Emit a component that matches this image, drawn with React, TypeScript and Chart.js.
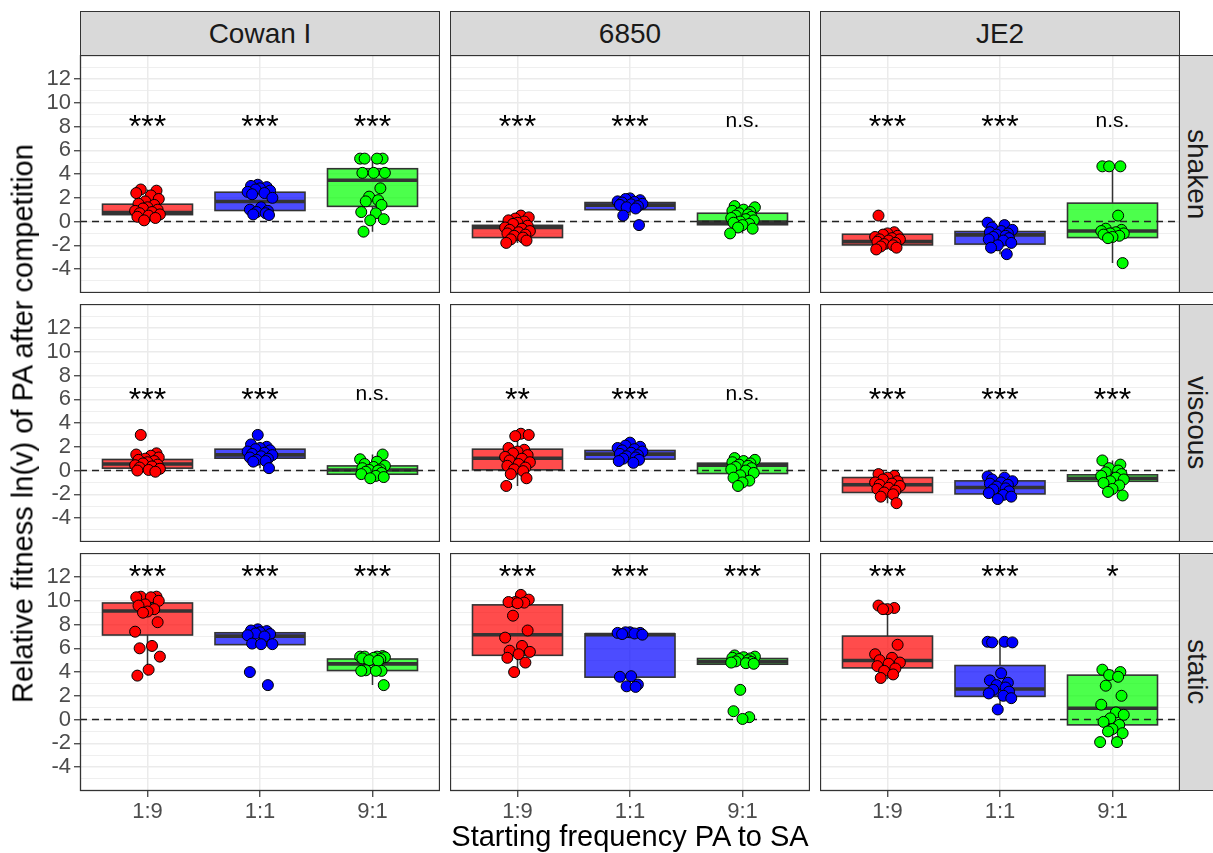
import React, { useEffect, useRef } from 'react';
import { Chart, registerables } from 'chart.js';

Chart.register(...registerables);

// ---------------- data ----------------
const CULTURES = ['Cowan I', '6850', 'JE2'];
const CONDITIONS = ['shaken', 'viscous', 'static'];
const FREQUENCIES = ['1:9', '1:1', '9:1'];
const Y_TICKS = [-4, -2, 0, 2, 4, 6, 8, 10, 12];
const Y_MINOR = [-5, -3, -1, 1, 3, 5, 7, 9, 11, 13];
const X_TITLE = 'Starting frequency PA to SA';
const Y_TITLE = 'Relative fitness ln(v) of PA after competition';

// box stats per group: [lower whisker, Q1, median, Q3, upper whisker]
// order: Cowan I (1:9, 1:1, 9:1), 6850 (1:9, 1:1, 9:1), JE2 (1:9, 1:1, 9:1)
const SHAKEN_BOXES = [
  [0.1, 0.58, 0.75, 1.46, 2.7],
  [0.55, 0.93, 1.69, 2.47, 3.1],
  [-0.85, 1.28, 3.48, 4.45, 5.3],
  [-1.8, -1.35, -0.5, -0.32, 0.5],
  [0.5, 1.0, 1.38, 1.6, 1.95],
  [-1.0, -0.27, -0.05, 0.7, 1.3],
  [-2.35, -1.97, -1.69, -1.07, -0.9],
  [-2.75, -1.9, -1.12, -0.84, -0.1],
  [-3.5, -1.35, -0.8, 1.55, 4.65],
];
const VISCOUS_BOXES = [
  [-0.1, 0.2, 0.55, 0.93, 1.45],
  [0.2, 1.04, 1.32, 1.8, 2.2],
  [-0.65, -0.31, 0.05, 0.39, 1.35],
  [-1.3, 0.06, 1.04, 1.8, 3.1],
  [0.65, 0.96, 1.38, 1.69, 2.35],
  [-1.3, -0.25, 0.45, 0.62, 1.05],
  [-2.75, -1.85, -1.2, -0.59, -0.3],
  [-2.4, -1.97, -1.43, -0.87, -0.5],
  [-2.1, -0.9, -0.65, -0.36, 0.85],
];
const STATIC_BOXES = [
  [3.7, 7.12, 9.15, 9.82, 10.35],
  [6.31, 6.31, 7.03, 7.31, 7.6],
  [2.9, 4.13, 4.69, 5.1, 5.35],
  [4.0, 5.41, 7.14, 9.66, 10.5],
  [2.75, 3.57, 7.15, 7.22, 7.35],
  [4.66, 4.66, 4.88, 5.14, 5.4],
  [3.4, 4.35, 4.97, 7.03, 9.45],
  [0.85, 1.95, 2.57, 4.55, 6.55],
  [-1.9, -0.45, 0.95, 3.74, 4.2],
];

// jittered observations per group (same order as boxes)
const SHAKEN_POINTS = [
  [2.7, 2.6, 2.4, 2.2, 1.9, 1.7, 1.5, 1.4, 1.2, 1.1, 1.0, 0.9, 0.8, 0.7, 0.6, 0.5, 0.4, 0.3, 0.1],
  [3.1, 3.0, 2.9, 2.8, 2.7, 2.6, 2.5, 2.4, 2.3, 2.0, 1.2, 1.0, 0.9, 0.8, 0.7, 0.6, 0.55],
  [5.3, 5.3, 5.3, 5.3, 4.1, 4.1, 4.1, 2.8, 2.1, 1.8, 1.7, 1.4, 0.8, 0.7, 0.2, 0.1, -0.85],
  [0.5, 0.35, 0.25, 0.1, 0.0, -0.1, -0.2, -0.35, -0.5, -0.6, -0.7, -0.8, -0.9, -1.0, -1.1, -1.2, -1.35, -1.5, -1.6, -1.8],
  [1.95, 1.9, 1.8, 1.7, 1.65, 1.6, 1.5, 1.45, 1.4, 1.3, 1.2, 1.1, 0.5, -0.3],
  [1.3, 1.2, 1.0, 0.9, 0.8, 0.7, 0.6, 0.5, 0.4, 0.3, 0.2, 0.1, 0.0, -0.1, -0.2, -0.3, -0.5, -0.6, -1.0],
  [0.5, -0.9, -1.0, -1.1, -1.2, -1.3, -1.4, -1.5, -1.5, -1.6, -1.7, -1.8, -1.9, -2.0, -2.1, -2.2, -2.35],
  [-0.1, -0.3, -0.5, -0.7, -0.8, -0.9, -1.0, -1.1, -1.2, -1.3, -1.4, -1.5, -1.6, -1.8, -2.0, -2.2, -2.75],
  [4.65, 4.65, 4.65, 0.5, -0.6, -0.7, -0.8, -0.9, -1.0, -1.0, -1.1, -1.2, -1.3, -1.4, -3.5],
];
const VISCOUS_POINTS = [
  [3.0, 1.45, 1.35, 1.25, 1.1, 1.0, 0.9, 0.8, 0.7, 0.6, 0.5, 0.45, 0.35, 0.25, 0.15, 0.05, 0.0, -0.1],
  [3.0, 2.2, 2.0, 1.9, 1.8, 1.7, 1.6, 1.5, 1.4, 1.3, 1.2, 1.1, 1.0, 0.9, 0.8, 0.75, 0.2],
  [1.35, 0.95, 0.75, 0.55, 0.4, 0.3, 0.2, 0.1, 0.05, 0.0, -0.1, -0.2, -0.3, -0.45, -0.55, -0.65],
  [3.1, 3.0, 2.9, 1.9, 1.75, 1.6, 1.45, 1.3, 1.15, 1.0, 0.85, 0.7, 0.55, 0.4, 0.25, 0.1, -0.05, -0.3, -0.65, -1.3],
  [2.35, 2.1, 2.0, 1.9, 1.8, 1.7, 1.6, 1.5, 1.4, 1.3, 1.2, 1.1, 1.0, 0.9, 0.8, 0.65],
  [1.05, 0.9, 0.8, 0.7, 0.6, 0.5, 0.4, 0.3, 0.2, 0.1, 0.0, -0.2, -0.4, -0.6, -0.85, -1.0, -1.3],
  [-0.3, -0.45, -0.6, -0.75, -0.9, -1.0, -1.1, -1.2, -1.3, -1.45, -1.55, -1.7, -1.85, -2.0, -2.2, -2.75],
  [-0.5, -0.6, -0.75, -0.9, -1.0, -1.1, -1.2, -1.35, -1.5, -1.6, -1.75, -1.9, -2.05, -2.2, -2.4],
  [0.85, 0.5, 0.2, 0.0, -0.15, -0.3, -0.45, -0.6, -0.75, -0.9, -1.05, -1.25, -1.55, -1.8, -2.1],
];
const STATIC_POINTS = [
  [10.35, 10.35, 10.3, 10.3, 10.0, 9.7, 9.6, 9.3, 9.1, 9.0, 8.2, 7.4, 6.2, 6.0, 5.3, 4.2, 3.7],
  [7.6, 7.5, 7.45, 7.35, 7.25, 7.2, 7.1, 7.0, 6.4, 6.35, 6.35, 4.0, 2.9],
  [5.35, 5.3, 5.3, 5.3, 5.25, 5.2, 5.15, 5.1, 5.0, 4.95, 4.15, 4.1, 4.1, 4.1, 2.9],
  [10.5, 10.1, 9.9, 9.9, 9.85, 9.8, 8.75, 7.5, 6.9, 6.2, 5.8, 5.7, 5.5, 5.2, 4.8, 4.0],
  [7.35, 7.35, 7.3, 7.3, 7.25, 7.2, 7.15, 3.65, 3.6, 2.95, 2.8, 2.75],
  [5.4, 5.3, 5.25, 5.2, 5.15, 5.1, 5.0, 4.9, 4.85, 4.8, 4.75, 4.7, 2.5, 0.7, 0.2, 0.05],
  [9.6, 9.4, 9.3, 9.3, 6.3, 5.5, 5.2, 5.0, 4.8, 4.7, 4.5, 4.3, 4.1, 3.8, 3.5],
  [6.55, 6.55, 6.5, 6.5, 3.9, 3.3, 3.1, 2.9, 2.7, 2.5, 2.35, 2.2, 2.0, 1.8, 0.85],
  [4.2, 4.0, 3.75, 3.6, 2.85, 2.0, 1.25, 0.6, 0.4, 0.1, -0.2, -0.45, -0.8, -1.0, -1.15, -1.9, -1.9],
];

// significance labels per group
const SHAKEN_SIG = ['***', '***', '***', '***', '***', 'n.s.', '***', '***', 'n.s.'];
const VISCOUS_SIG = ['***', '***', 'n.s.', '**', '***', 'n.s.', '***', '***', '***'];
const STATIC_SIG = ['***', '***', '***', '***', '***', '***', '***', '***', '*'];
// vertical position of the significance labels per condition
const SIG_Y = [8.4, 6.4, 12.4];

const BOXES_BY_CONDITION = [SHAKEN_BOXES, VISCOUS_BOXES, STATIC_BOXES];
const POINTS_BY_CONDITION = [SHAKEN_POINTS, VISCOUS_POINTS, STATIC_POINTS];
const SIG_BY_CONDITION = [SHAKEN_SIG, VISCOUS_SIG, STATIC_SIG];

// ---------------- style / layout ----------------
const FONT = '"Liberation Sans", Arial, Helvetica, sans-serif';
const POINT_COLORS = ['#ff0000', '#0000ff', '#00ff00'];
const BOX_FILLS = ['rgba(255,0,0,0.7)', 'rgba(0,0,255,0.7)', 'rgba(0,255,0,0.7)'];
const JITTER = [-0.06, 0.08, -0.1, 0.03, 0.1, -0.02, -0.08, 0.06, 0.0, -0.04, 0.09, -0.11, 0.04, -0.07, 0.11, 0.01, -0.09, 0.07, -0.03, 0.05];
const PANEL_X = [80, 450, 820];
const PANEL_Y = [55, 304, 553];
const PANEL_W = 360;
const PANEL_H = 238;
const X_AXIS_H = 40;
const Y_MIN = -6.02;
const Y_MAX = 14.03;
const X_MIN = -0.6;
const X_MAX = 2.6;
const BOX_HALF = 0.4;
const TICK_FONT_SIZE = 22;

function makePanelPlugin(row: number, col: number) {
  const boxes = BOXES_BY_CONDITION[row].slice(col * 3, col * 3 + 3);
  const sigs = SIG_BY_CONDITION[row].slice(col * 3, col * 3 + 3);
  return {
    id: 'panel' + row + col,
    beforeDatasetsDraw(chart: any) {
      const { ctx, chartArea, scales } = chart;
      const x = scales.x;
      const y = scales.y;
      ctx.save();
      ctx.beginPath();
      ctx.rect(chartArea.left, chartArea.top, chartArea.right - chartArea.left, chartArea.bottom - chartArea.top);
      ctx.clip();
      boxes.forEach((b: number[], i: number) => {
        const [wlo, q1, med, q3, whi] = b;
        const cx = x.getPixelForValue(i);
        const left = x.getPixelForValue(i - BOX_HALF);
        const right = x.getPixelForValue(i + BOX_HALF);
        const top = y.getPixelForValue(q3);
        const bot = y.getPixelForValue(q1);
        ctx.strokeStyle = '#333333';
        ctx.lineWidth = 1.5;
        ctx.beginPath();
        ctx.moveTo(cx, top);
        ctx.lineTo(cx, y.getPixelForValue(whi));
        ctx.moveTo(cx, bot);
        ctx.lineTo(cx, y.getPixelForValue(wlo));
        ctx.stroke();
        ctx.fillStyle = BOX_FILLS[i];
        ctx.fillRect(left, top, right - left, bot - top);
        ctx.lineWidth = 1.6;
        ctx.strokeRect(left, top, right - left, bot - top);
        const ym = y.getPixelForValue(med);
        ctx.lineWidth = 3.6;
        ctx.beginPath();
        ctx.moveTo(left, ym);
        ctx.lineTo(right, ym);
        ctx.stroke();
      });
      const y0 = y.getPixelForValue(0);
      ctx.strokeStyle = '#222222';
      ctx.lineWidth = 1.6;
      ctx.setLineDash([7, 5]);
      ctx.beginPath();
      ctx.moveTo(chartArea.left, y0);
      ctx.lineTo(chartArea.right, y0);
      ctx.stroke();
      ctx.restore();
    },
    afterDatasetsDraw(chart: any) {
      const { ctx, scales } = chart;
      const x = scales.x;
      const y = scales.y;
      ctx.save();
      ctx.fillStyle = '#000000';
      ctx.textAlign = 'center';
      ctx.textBaseline = 'alphabetic';
      sigs.forEach((lab: string, i: number) => {
        const cx = x.getPixelForValue(i);
        const cy = y.getPixelForValue(SIG_Y[row]);
        if (lab.startsWith('*')) {
          ctx.font = '32px ' + FONT;
          ctx.fillText(lab, cx, cy + 15);
        } else {
          ctx.font = '21px ' + FONT;
          ctx.fillText(lab, cx, cy + 5);
        }
      });
      ctx.restore();
    },
    afterDraw(chart: any) {
      const { ctx, chartArea } = chart;
      ctx.save();
      ctx.strokeStyle = '#333333';
      ctx.lineWidth = 1.3;
      ctx.strokeRect(chartArea.left + 0.5, chartArea.top + 0.5, chartArea.right - chartArea.left - 1, chartArea.bottom - chartArea.top - 1);
      ctx.restore();
    },
  };
}

function Panel({ row, col }: { row: number; col: number }) {
  const ref = useRef<HTMLCanvasElement | null>(null);
  const isLeft = col === 0;
  const isBottom = row === 2;
  const left = isLeft ? 0 : PANEL_X[col];
  const width = isLeft ? PANEL_X[0] + PANEL_W : PANEL_W;
  const top = PANEL_Y[row];
  const height = isBottom ? PANEL_H + X_AXIS_H : PANEL_H;

  useEffect(() => {
    const canvas = ref.current;
    if (!canvas) return;
    const groups = POINTS_BY_CONDITION[row].slice(col * 3, col * 3 + 3);
    const pts: { x: number; y: number }[] = [];
    const colors: string[] = [];
    groups.forEach((vals: number[], i: number) => {
      vals.forEach((v: number, k: number) => {
        pts.push({ x: i + JITTER[(k + i * 5 + col * 3) % JITTER.length], y: v });
        colors.push(POINT_COLORS[i]);
      });
    });
    const chart = new Chart(canvas, {
      type: 'scatter',
      data: {
        datasets: [
          {
            data: pts,
            backgroundColor: colors,
            borderColor: '#000000',
            borderWidth: 1,
            pointRadius: 5.5,
            pointHoverRadius: 5.5,
          },
        ],
      },
      options: {
        responsive: false,
        animation: false,
        devicePixelRatio: 1,
        events: [],
        layout: { padding: 0, autoPadding: false },
        plugins: { legend: { display: false }, tooltip: { enabled: false } },
        scales: {
          x: {
            type: 'linear',
            min: X_MIN,
            max: X_MAX,
            bounds: 'data',
            afterBuildTicks: (s: any) => {
              s.ticks = FREQUENCIES.map((_, i) => ({ value: i }));
            },
            afterFit: (s: any) => {
              s.height = isBottom ? X_AXIS_H : 0;
              s.paddingLeft = 0;
              s.paddingRight = 0;
            },
            border: { display: false },
            grid: {
              color: '#ebebeb',
              lineWidth: 1.5,
              drawTicks: isBottom,
              tickLength: 6,
              tickColor: '#333333',
              tickWidth: 1.2,
            },
            ticks: {
              display: isBottom,
              autoSkip: false,
              maxRotation: 0,
              padding: 2,
              color: '#4d4d4d',
              font: { family: FONT, size: TICK_FONT_SIZE },
              callback: (v: any) => FREQUENCIES[v as number] ?? '',
            },
          },
          y: {
            type: 'linear',
            min: Y_MIN,
            max: Y_MAX,
            bounds: 'data',
            afterBuildTicks: (s: any) => {
              s.ticks = [...Y_MINOR, ...Y_TICKS].sort((a, b) => a - b).map((v) => ({ value: v }));
            },
            afterFit: (s: any) => {
              s.width = isLeft ? PANEL_X[0] : 0;
              s.paddingTop = 0;
              s.paddingBottom = 0;
            },
            border: { display: false },
            grid: {
              color: '#ebebeb',
              lineWidth: (c: any) => (c.tick && Y_TICKS.includes(c.tick.value) ? 1.5 : 0.8),
              drawTicks: isLeft,
              tickLength: 6,
              tickColor: (c: any) => (c.tick && Y_TICKS.includes(c.tick.value) ? '#333333' : 'rgba(0,0,0,0)'),
              tickWidth: 1.2,
            },
            ticks: {
              display: isLeft,
              autoSkip: false,
              padding: 3,
              color: '#4d4d4d',
              font: { family: FONT, size: TICK_FONT_SIZE },
              callback: (v: any) => (Y_TICKS.includes(v as number) ? String(v) : ''),
            },
          },
        },
      },
      plugins: [makePanelPlugin(row, col)],
    } as any);
    return () => chart.destroy();
  }, [row, col]);

  return (
    <canvas
      ref={ref}
      width={width}
      height={height}
      style={{ position: 'absolute', left, top, width, height }}
    />
  );
}

export default function App() {
  const panels = [];
  for (let r = 0; r < 3; r++) for (let c = 0; c < 3; c++) panels.push(<Panel key={r + '-' + c} row={r} col={c} />);
  return (
    <div
      style={{
        position: 'fixed',
        left: 0,
        top: 0,
        width: 1213,
        height: 853,
        background: '#ffffff',
        overflow: 'hidden',
        fontFamily: FONT,
      }}
    >
      {CULTURES.map((name, c) => (
        <div
          key={name}
          style={{
            position: 'absolute',
            left: PANEL_X[c],
            top: 11,
            width: PANEL_W,
            height: 45,
            boxSizing: 'border-box',
            background: '#d9d9d9',
            border: '1.2px solid #333333',
            display: 'flex',
            alignItems: 'center',
            justifyContent: 'center',
            fontSize: 28,
            color: '#1a1a1a',
          }}
        >
          {name}
        </div>
      ))}
      {CONDITIONS.map((name, r) => (
        <div
          key={name}
          style={{
            position: 'absolute',
            left: PANEL_X[2] + PANEL_W - 1,
            top: PANEL_Y[r],
            width: 36,
            height: PANEL_H,
            boxSizing: 'border-box',
            background: '#d9d9d9',
            border: '1.2px solid #333333',
            display: 'flex',
            alignItems: 'center',
            justifyContent: 'center',
            fontSize: 28,
            color: '#1a1a1a',
            writingMode: 'vertical-rl',
          }}
        >
          {name}
        </div>
      ))}
      {panels}
      <div
        style={{
          position: 'absolute',
          left: PANEL_X[0],
          top: 822,
          width: PANEL_X[2] + PANEL_W - PANEL_X[0],
          textAlign: 'center',
          fontSize: 29,
          lineHeight: '29px',
          color: '#000000',
          whiteSpace: 'nowrap',
        }}
      >
        {X_TITLE}
      </div>
      <div
        style={{
          position: 'absolute',
          left: 23 - 400,
          top: 423 - 14.5,
          width: 800,
          height: 29,
          textAlign: 'center',
          fontSize: 29,
          lineHeight: '29px',
          color: '#000000',
          whiteSpace: 'nowrap',
          transform: 'rotate(-90deg)',
          transformOrigin: '50% 50%',
        }}
      >
        {Y_TITLE}
      </div>
    </div>
  );
}
